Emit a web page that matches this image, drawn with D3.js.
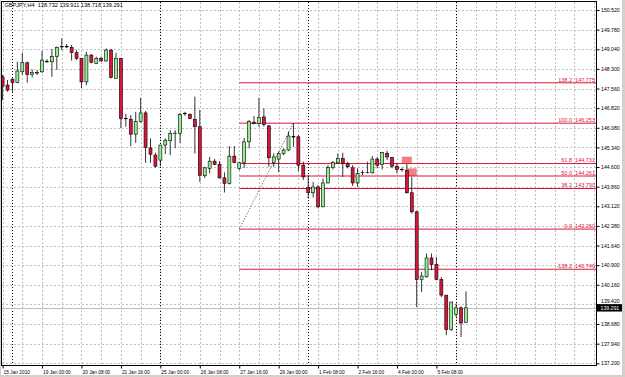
<!DOCTYPE html>
<html>
<head>
<meta charset="utf-8">
<script src="https://cdnjs.cloudflare.com/ajax/libs/d3/7.8.5/d3.min.js"></script>
<style>
body{margin:0;background:#d4d0c8;}
svg{display:block;}
text{font-family:"Liberation Sans",Arial,sans-serif;}
</style>
</head>
<body>
<div id="contents"></div>
<script>
// GBPJPY H4, bars from 15 Jan 2010 16:00 to 8 Feb 2010 08:00
var opens = [148.00,147.69,147.91,147.78,148.19,148.53,148.09,148.14,148.19,148.57,
  148.57,148.76,149.14,149.13,149.11,148.91,148.70,147.81,148.82,148.51,
  148.70,148.60,149.01,147.94,148.70,146.43,146.40,145.84,146.31,146.64,
  145.32,145.05,144.86,145.43,145.59,145.86,145.87,146.62,146.58,146.40,
  146.12,144.27,144.55,144.82,144.70,144.19,143.98,145.01,144.55,144.77,
  145.55,146.29,146.24,146.49,146.15,144.77,144.90,145.11,145.24,145.75,
  145.74,144.67,143.83,143.63,143.85,143.10,144.00,144.58,144.76,144.92,
  144.73,144.57,144.00,144.40,144.39,144.38,144.90,144.69,145.12,144.96,
  144.63,144.51,144.48,143.63,142.91,140.36,140.46,141.17,140.92,140.36,
  139.77,138.47,139.04,139.29,138.732];
var highs = [148.07,147.88,147.95,148.57,148.91,148.57,148.28,148.26,148.97,148.67,
  149.05,149.14,149.45,149.24,149.20,149.01,148.70,148.95,148.86,148.76,
  148.76,149.07,149.05,148.91,148.70,146.60,146.56,146.68,147.21,146.71,
  145.68,145.14,145.43,145.68,145.99,145.99,146.64,146.68,146.62,147.25,
  146.75,144.61,144.98,144.90,144.82,144.40,145.39,145.39,144.80,145.70,
  146.37,146.53,147.21,146.81,146.18,145.11,145.17,145.30,145.93,146.253,
  145.80,144.80,144.29,144.04,143.92,144.17,144.67,144.83,145.11,145.14,
  144.80,144.67,144.55,144.48,144.80,145.01,144.98,145.17,145.22,144.98,
  144.74,144.58,144.71,144.23,142.95,140.65,141.34,141.34,141.21,140.45,
  139.77,139.51,139.45,139.35,139.911];
var lows = [147.12,147.44,147.44,147.76,148.07,147.78,147.98,148.07,148.15,148.52,
  148.00,148.26,149.01,149.09,148.61,148.63,147.57,147.69,148.51,148.48,
  148.57,148.57,147.94,147.94,146.06,146.12,145.39,145.51,146.27,144.76,
  144.76,144.58,144.63,145.09,145.05,145.31,145.51,146.52,146.40,145.11,
  144.04,144.19,144.36,144.67,144.17,143.64,143.94,144.74,144.48,144.57,
  145.30,146.21,146.12,146.12,144.61,144.61,144.40,145.05,145.20,145.36,
  144.44,144.11,143.41,143.45,143.04,143.08,143.98,144.51,144.71,144.23,
  144.55,143.88,143.85,144.29,144.36,144.36,144.55,144.51,144.86,144.55,
  144.36,144.42,143.60,142.85,139.32,139.89,140.43,140.71,140.33,139.70,
  138.26,138.42,138.95,138.19,138.718];
var closes = [147.65,147.50,147.78,148.22,148.55,148.09,148.17,148.17,148.63,148.58,
  148.76,149.11,149.13,149.14,148.92,148.70,147.81,148.82,148.55,148.70,
  148.60,149.01,147.98,148.70,146.43,146.42,145.84,146.31,146.64,145.34,
  145.08,144.63,145.43,145.61,145.87,145.88,146.58,146.61,146.43,146.12,
  144.29,144.57,144.82,144.70,144.19,143.98,145.01,144.77,144.76,145.55,
  146.31,146.24,146.47,146.21,144.95,144.98,145.11,145.24,145.77,145.73,
  144.67,144.23,143.63,143.85,143.10,144.00,144.58,144.77,144.92,144.73,
  144.61,144.00,144.36,144.39,144.40,144.90,144.67,145.15,144.98,144.63,
  144.51,144.50,143.63,142.91,140.36,140.49,141.17,140.92,140.36,139.77,
  138.47,139.51,139.29,138.72,139.291];

var priceTicks = [150.520,149.780,149.040,148.300,147.560,146.820,146.080,145.340,144.600,
  143.860,143.120,142.380,141.640,140.900,140.160,139.420,138.680,137.940,137.200];
var dateLabels = ["15 Jan 2010","19 Jan 00:00","20 Jan 08:00","21 Jan 16:00","25 Jan 00:00",
  "26 Jan 08:00","27 Jan 16:00","29 Jan 00:00","1 Feb 08:00","2 Feb 16:00","4 Feb 00:00","5 Feb 08:00"];
var dateIdx = [0,8,16,24,32,40,48,56,64,72,80,88];
var weekSeps = [2,32,62,92];

// fibonacci object, anchored from bar 48 (142.260) to bar 59 (146.253)
var fibRatios = ["138.2","100.0","61.8","50.0","38.2","0.0","-138.2"];
var fibPrices = [147.775,146.253,144.731,144.261,143.790,142.260,140.746];
var fibFrom = [48,142.260], fibTo = [59,146.253];

// two marker boxes
var boxIdx = [[81,83],[82.1,84]];
var boxPrices = [[144.99,144.73],[144.55,144.26]];

var title = "GBPJPY,H4  138.732 139.911 138.718 139.291";
var lastPrice = 139.291;

function px(v){ return Math.round(v)+0.5; }

function drawChart(){
  var width = 625, height = 377;
  var left = 1.5, right = 596.5, top = 1.5, bottom = 365.5;

  var x = d3.scaleLinear().domain([0,94]).range([2.6,466.0]);
  var y = d3.scaleLinear().domain([137.2,150.52]).range([363.3,10]);

  var svg = d3.select("#contents").append("svg")
              .attr("width",width).attr("height",height);

  svg.append("rect").attr("x",1).attr("y",0).attr("width",621).attr("height",375)
     .attr("fill","white");

  svg.append("clipPath").attr("id","plot")
     .append("rect").attr("x",left).attr("y",top)
     .attr("width",right-left).attr("height",bottom-top);

  var chart = svg.append("g").attr("clip-path","url(#plot)");

  // grid
  chart.selectAll(".hgrid").data(priceTicks).enter().append("line")
       .attr("x1",left).attr("x2",right)
       .attr("y1",function(d){return px(y(d));}).attr("y2",function(d){return px(y(d));})
       .attr("stroke","#c0c0c0").attr("stroke-width",1).attr("stroke-dasharray","2,2")
       .attr("shape-rendering","crispEdges");
  chart.selectAll(".vgrid").data(d3.range(0,121,4)).enter().append("line")
       .attr("x1",function(d){return px(x(d));}).attr("x2",function(d){return px(x(d));})
       .attr("y1",top).attr("y2",bottom)
       .attr("stroke","#c0c0c0").attr("stroke-width",1).attr("stroke-dasharray","2,2")
       .attr("shape-rendering","crispEdges");

  // week separators
  chart.selectAll(".sep").data(weekSeps).enter().append("line")
       .attr("x1",function(d){return px(x(d));}).attr("x2",function(d){return px(x(d));})
       .attr("y1",top).attr("y2",bottom)
       .attr("stroke","black").attr("stroke-width",1).attr("stroke-dasharray","1,2")
       .attr("shape-rendering","crispEdges");

  // last price line
  chart.append("line").attr("x1",left).attr("x2",right)
       .attr("y1",px(y(lastPrice))).attr("y2",px(y(lastPrice)))
       .attr("stroke","#b8b8b8").attr("stroke-width",1);

  // boxes
  chart.selectAll(".box").data(boxIdx).enter().append("rect")
       .attr("x",function(d){return x(d[0]);})
       .attr("width",function(d){return x(d[1])-x(d[0]);})
       .attr("y",function(d,i){return y(boxPrices[i][0]);})
       .attr("height",function(d,i){return y(boxPrices[i][1])-y(boxPrices[i][0]);})
       .attr("fill","#f08080");

  // fibo
  chart.selectAll(".fib").data(fibPrices).enter().append("line")
       .attr("x1",x(fibFrom[0])).attr("x2",right)
       .attr("y1",function(d){return y(d);}).attr("y2",function(d){return y(d);})
       .attr("stroke","crimson").attr("stroke-width",1);
  chart.append("line")
       .attr("x1",x(fibFrom[0])).attr("y1",y(fibFrom[1]))
       .attr("x2",x(fibTo[0])).attr("y2",y(fibTo[1]))
       .attr("stroke","#333").attr("stroke-width",0.9).attr("stroke-dasharray","1,1.8");

  // candles
  var bars = chart.selectAll(".bar").data(opens).enter().append("g");
  bars.append("line")
      .attr("x1",function(d,i){return x(i);}).attr("x2",function(d,i){return x(i);})
      .attr("y1",function(d,i){return y(highs[i]);})
      .attr("y2",function(d,i){return y(lows[i]);})
      .attr("stroke","black").attr("stroke-width",0.8);
  bars.append("rect")
      .attr("x",function(d,i){return x(i)-1.5;})
      .attr("width",3)
      .attr("y",function(d,i){return y(Math.max(d,closes[i]));})
      .attr("height",function(d,i){return Math.max(0.3,Math.abs(y(d)-y(closes[i])));})
      .attr("fill",function(d,i){return closes[i]>=d ? "#90ee90" : "crimson";})
      .attr("stroke","black").attr("stroke-width",0.6);

  // fibo labels
  var fl = svg.selectAll(".fibl").data(fibPrices).enter().append("g");
  fl.append("text").attr("x",572).attr("y",function(d){return y(d)-1.2;})
    .attr("text-anchor","end").attr("font-size","5.5px").attr("fill","crimson")
    .text(function(d,i){return fibRatios[i];});
  fl.append("text").attr("x",595).attr("y",function(d){return y(d)-1.2;})
    .attr("text-anchor","end").attr("font-size","5.5px").attr("fill","crimson")
    .text(function(d){return d.toFixed(3);});

  // frame
  svg.append("rect").attr("x",left).attr("y",top)
     .attr("width",right-left).attr("height",bottom-top)
     .attr("fill","none").attr("stroke","black").attr("stroke-width",1);

  // price axis
  var yAxis = svg.append("g").attr("transform","translate("+right+",0)")
     .call(d3.axisRight(y).tickValues(priceTicks).tickSize(3).tickPadding(1.5)
            .tickFormat(d3.format(".3f")));
  yAxis.select(".domain").remove();
  yAxis.selectAll("text").attr("font-size","5.2px").attr("fill","black")
       .attr("font-family","'Liberation Sans',Arial,sans-serif");
  yAxis.selectAll("line").attr("stroke","black");
  // the tick just above the price tag is pushed up a little, as in the terminal
  yAxis.selectAll("text").filter(function(d){return d===139.42;}).attr("dy","-0.35em");

  // current price tag
  svg.append("rect").attr("x",597).attr("y",y(lastPrice)-3.7)
     .attr("width",25).attr("height",7.4).attr("fill","black");
  svg.append("text").attr("x",600.5).attr("y",y(lastPrice)+1.9)
     .attr("font-size","5.2px").attr("fill","white").text(lastPrice.toFixed(3));

  // time axis
  var xAxis = svg.append("g").attr("transform","translate(0,"+bottom+")")
     .call(d3.axisBottom(x).tickValues(dateIdx).tickSize(3)
            .tickFormat(function(d,i){return dateLabels[i];}));
  xAxis.select(".domain").remove();
  xAxis.selectAll("line").attr("stroke","black");
  xAxis.selectAll("text").attr("text-anchor","start").attr("x",0.5)
       .attr("dy",0).attr("y",8.2)
       .attr("font-size","4.8px").attr("fill","black")
       .attr("font-family","'Liberation Sans',Arial,sans-serif");

  // title
  svg.append("text").attr("x",4.5).attr("y",7.4)
     .attr("font-size","5.6px").attr("fill","black")
     .attr("xml:space","preserve").style("white-space","pre")
     .text(title);
}
drawChart();
</script>
</body>
</html>
